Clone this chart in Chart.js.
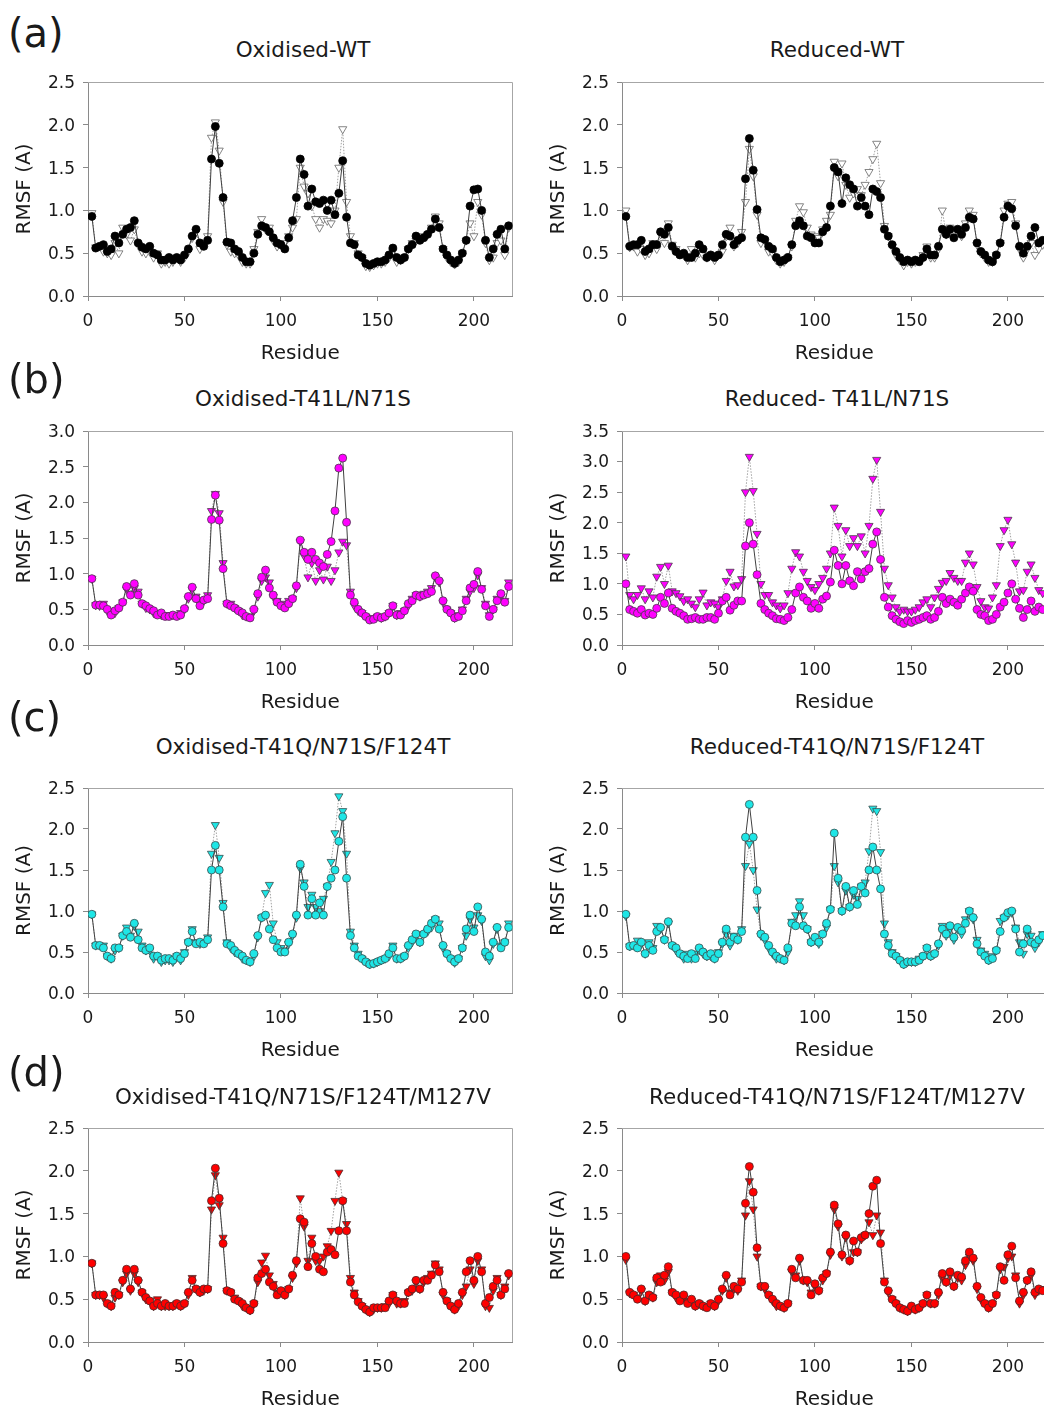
<!DOCTYPE html>
<html>
<head>
<meta charset="utf-8">
<title>RMSF per residue</title>
<script src="https://cdn.jsdelivr.net/npm/chart.js@4.4.1/dist/chart.umd.min.js"></script>
<style>
  html, body { margin: 0; padding: 0; background: #fff; overflow: hidden; }
  #page { position: relative; width: 1044px; height: 1408px; overflow: hidden; background: #fff;
          font-family: "DejaVu Sans", sans-serif; color: #1a1a1a; }
  .tag { position: absolute; left: 8px; font-family: "DejaVu Sans", sans-serif; font-size: 40px; line-height: 46px; }
  .ttl { position: absolute; width: 430px; text-align: center; font-size: 21.5px; line-height: 24px; white-space: nowrap; }
  .box { position: absolute; }
</style>
</head>
<body>
<div id="page"></div>
<script>
// residue numbers (every second residue)
const residues = [
  2, 4, 6, 8, 10, 12, 14, 16, 18, 20,
  22, 24, 26, 28, 30, 32, 34, 36, 38, 40,
  42, 44, 46, 48, 50, 52, 54, 56, 58, 60,
  62, 64, 66, 68, 70, 72, 74, 76, 78, 80,
  82, 84, 86, 88, 90, 92, 94, 96, 98, 100,
  102, 104, 106, 108, 110, 112, 114, 116, 118, 120,
  122, 124, 126, 128, 130, 132, 134, 136, 138, 140,
  142, 144, 146, 148, 150, 152, 154, 156, 158, 160,
  162, 164, 166, 168, 170, 172, 174, 176, 178, 180,
  182, 184, 186, 188, 190, 192, 194, 196, 198, 200,
  202, 204, 206, 208, 210, 212, 214, 216, 218
];

const xTicks = [0, 50, 100, 150, 200];
const yMaxLeft = [2.5, 3.0, 2.5, 2.5];
const yMaxRight = [2.5, 3.5, 2.5, 2.5];

const panelTags = ['(a)', '(b)', '(c)', '(d)'];
const titlesLeft = ['Oxidised-WT', 'Oxidised-T41L/N71S', 'Oxidised-T41Q/N71S/F124T', 'Oxidised-T41Q/N71S/F124T/M127V'];
const titlesRight = ['Reduced-WT', 'Reduced- T41L/N71S', 'Reduced-T41Q/N71S/F124T', 'Reduced-T41Q/N71S/F124T/M127V'];

// (a) WT
const oxWtCircle = [
  0.93,0.56,0.58,0.60,0.52,0.55,0.70,0.62,0.72,0.78,
  0.80,0.88,0.62,0.57,0.55,0.58,0.50,0.48,0.42,0.42,
  0.45,0.42,0.45,0.42,0.48,0.55,0.70,0.78,0.62,0.58,
  0.65,1.60,1.98,1.55,1.15,0.63,0.62,0.55,0.52,0.45,
  0.40,0.40,0.50,0.72,0.82,0.80,0.75,0.68,0.62,0.60,
  0.55,0.68,0.88,1.15,1.60,1.42,1.05,1.25,1.10,1.08,
  1.12,1.00,1.12,0.95,1.20,1.58,0.92,0.62,0.60,0.48,
  0.45,0.38,0.36,0.38,0.40,0.40,0.42,0.48,0.56,0.45,
  0.42,0.45,0.55,0.60,0.70,0.65,0.68,0.72,0.78,0.90,
  0.80,0.55,0.48,0.42,0.38,0.42,0.50,0.65,1.05,1.24,
  1.25,1.00,0.65,0.45,0.55,0.72,0.78,0.55,0.82
];
const oxWtTriangle = [
  0.97,0.57,0.58,0.52,0.50,0.48,0.62,0.50,0.80,0.72,
  0.65,0.78,0.60,0.52,0.50,0.52,0.45,0.50,0.38,0.40,
  0.38,0.40,0.45,0.40,0.45,0.52,0.68,0.75,0.55,0.60,
  0.70,1.85,2.03,1.70,1.10,0.60,0.52,0.50,0.48,0.40,
  0.38,0.38,0.55,0.75,0.90,0.78,0.80,0.65,0.58,0.60,
  0.62,0.70,0.80,0.90,1.50,1.28,1.20,1.05,0.90,0.80,
  0.90,0.88,0.85,1.00,1.50,1.95,1.10,0.70,0.62,0.50,
  0.45,0.35,0.34,0.36,0.38,0.38,0.40,0.45,0.52,0.40,
  0.42,0.45,0.55,0.62,0.65,0.68,0.70,0.72,0.80,0.93,
  0.85,0.55,0.45,0.40,0.37,0.40,0.50,0.65,0.85,0.70,
  1.10,0.95,0.62,0.42,0.45,0.62,0.65,0.48,0.80
];
const redWtCircle = [
  0.93,0.58,0.60,0.60,0.65,0.52,0.55,0.60,0.60,0.75,
  0.72,0.80,0.58,0.52,0.48,0.50,0.45,0.45,0.50,0.60,
  0.55,0.45,0.48,0.45,0.48,0.60,0.72,0.70,0.60,0.65,
  0.68,1.37,1.84,1.47,1.01,0.68,0.66,0.58,0.55,0.45,
  0.40,0.42,0.45,0.60,0.82,0.88,0.82,0.70,0.68,0.62,
  0.62,0.75,0.80,1.05,1.50,1.45,1.08,1.38,1.30,1.25,
  1.05,1.15,1.05,0.95,1.25,1.22,1.15,0.78,0.70,0.60,
  0.52,0.45,0.40,0.42,0.40,0.42,0.40,0.45,0.55,0.48,
  0.48,0.58,0.78,0.72,0.78,0.68,0.78,0.72,0.80,0.92,
  0.90,0.62,0.52,0.48,0.42,0.40,0.48,0.62,0.92,1.05,
  1.02,0.82,0.58,0.50,0.58,0.70,0.80,0.62,0.65
];
const redWtTriangle = [
  1.00,0.57,0.58,0.52,0.55,0.48,0.50,0.62,0.55,0.72,
  0.62,0.85,0.60,0.55,0.50,0.48,0.42,0.55,0.45,0.50,
  0.48,0.45,0.48,0.42,0.48,0.52,0.70,0.80,0.58,0.62,
  0.75,1.10,1.72,1.40,0.95,0.62,0.65,0.52,0.50,0.42,
  0.38,0.40,0.45,0.58,0.88,1.05,0.98,0.80,0.72,0.70,
  0.68,0.78,0.88,0.95,1.57,1.40,1.55,1.30,1.15,1.20,
  1.25,1.18,1.30,1.45,1.60,1.78,1.32,0.82,0.70,0.58,
  0.48,0.42,0.36,0.40,0.38,0.40,0.42,0.48,0.58,0.45,
  0.45,0.55,1.00,0.72,0.80,0.72,0.78,0.70,0.85,1.00,
  0.95,0.60,0.50,0.45,0.40,0.40,0.48,0.62,1.00,1.08,
  1.10,0.85,0.55,0.45,0.55,0.62,0.48,0.55,0.60
];

// (b) T41L/N71S
const oxLsCircle = [
  0.93,0.56,0.56,0.55,0.50,0.42,0.48,0.52,0.60,0.82,
  0.70,0.86,0.70,0.58,0.55,0.51,0.48,0.42,0.45,0.40,
  0.40,0.42,0.40,0.42,0.51,0.68,0.81,0.65,0.55,0.63,
  0.65,1.76,2.10,1.75,1.07,0.58,0.55,0.52,0.48,0.45,
  0.40,0.38,0.50,0.72,0.95,1.05,0.80,0.70,0.60,0.55,
  0.52,0.58,0.65,0.83,1.47,1.30,1.20,1.30,1.20,1.15,
  1.10,1.27,1.45,1.88,2.48,2.62,1.72,0.70,0.60,0.50,
  0.45,0.40,0.35,0.36,0.40,0.38,0.40,0.45,0.55,0.42,
  0.42,0.48,0.58,0.62,0.70,0.68,0.70,0.72,0.75,0.97,
  0.90,0.62,0.50,0.45,0.38,0.40,0.48,0.62,0.80,0.85,
  1.03,0.78,0.55,0.40,0.50,0.62,0.72,0.60,0.82
];
const oxLsTriangle = [
  0.93,0.56,0.55,0.58,0.48,0.45,0.45,0.52,0.60,0.78,
  0.72,0.80,0.75,0.58,0.52,0.50,0.45,0.45,0.42,0.42,
  0.42,0.42,0.42,0.45,0.50,0.65,0.78,0.68,0.58,0.62,
  0.70,1.88,2.12,1.85,1.15,0.58,0.58,0.52,0.48,0.42,
  0.40,0.40,0.48,0.68,0.90,0.95,0.88,0.68,0.62,0.58,
  0.55,0.62,0.65,0.80,1.45,1.25,0.95,1.15,0.90,1.05,
  0.92,1.10,0.90,1.05,1.30,1.45,1.40,0.75,0.55,0.48,
  0.45,0.40,0.36,0.38,0.40,0.38,0.40,0.45,0.55,0.42,
  0.45,0.48,0.55,0.65,0.70,0.68,0.72,0.75,0.80,0.95,
  0.88,0.60,0.50,0.45,0.38,0.42,0.50,0.65,0.75,0.80,
  0.98,0.80,0.58,0.42,0.50,0.65,0.68,0.62,0.88
];
const redLsCircle = [
  1.00,0.58,0.55,0.52,0.58,0.49,0.52,0.50,0.60,0.78,
  0.68,0.85,0.60,0.55,0.52,0.48,0.42,0.43,0.45,0.42,
  0.42,0.45,0.45,0.42,0.52,0.72,0.78,0.57,0.65,0.72,
  0.72,1.62,2.00,1.65,1.15,0.68,0.58,0.52,0.48,0.43,
  0.42,0.40,0.45,0.58,0.85,0.95,0.78,0.72,0.60,0.68,
  0.60,0.75,0.80,1.03,1.55,1.30,1.00,1.30,1.05,0.97,
  1.20,1.08,1.20,1.25,1.65,1.85,1.40,0.78,0.62,0.48,
  0.42,0.38,0.35,0.40,0.37,0.40,0.42,0.45,0.48,0.42,
  0.45,0.55,0.78,0.68,0.75,0.70,0.65,0.75,0.85,0.95,
  0.88,0.58,0.50,0.48,0.40,0.42,0.50,0.62,0.70,0.85,
  1.00,0.75,0.60,0.45,0.58,0.72,0.55,0.62,0.58
];
const redLsTriangle = [
  1.45,0.82,0.75,0.82,0.93,0.75,0.88,0.78,1.12,1.28,
  1.00,1.30,0.88,0.85,0.80,0.72,0.75,0.68,0.62,0.75,
  0.86,0.65,0.70,0.68,0.62,0.75,1.05,1.20,0.96,0.98,
  1.08,2.50,3.08,2.52,1.82,1.00,0.82,0.82,0.70,0.65,
  0.60,0.65,0.85,1.25,1.52,1.45,1.20,1.05,0.95,0.90,
  1.00,1.10,1.25,1.50,2.25,1.95,1.45,1.88,1.62,1.75,
  1.62,1.78,1.50,1.95,2.72,3.03,2.18,1.25,0.98,0.78,
  0.62,0.55,0.58,0.55,0.55,0.58,0.62,0.70,0.75,0.62,
  0.78,0.92,1.02,1.05,1.18,1.10,1.05,1.05,1.35,1.50,
  1.32,0.95,0.72,0.62,0.60,0.78,0.98,1.62,1.88,2.05,
  1.65,1.35,0.88,0.90,1.20,1.32,1.10,0.90,0.85
];

// (c) T41Q/N71S/F124T
const oxQstCircle = [
  0.96,0.58,0.58,0.55,0.45,0.42,0.55,0.55,0.70,0.75,
  0.68,0.85,0.65,0.55,0.52,0.55,0.45,0.45,0.40,0.42,
  0.42,0.40,0.45,0.42,0.48,0.62,0.75,0.60,0.62,0.60,
  0.65,1.50,1.80,1.50,1.05,0.60,0.58,0.52,0.48,0.45,
  0.40,0.38,0.48,0.70,0.92,0.95,0.78,0.65,0.55,0.50,
  0.50,0.62,0.72,0.95,1.57,1.30,0.95,1.15,0.95,1.10,
  0.95,1.30,1.40,1.50,1.85,2.15,1.40,0.70,0.55,0.45,
  0.42,0.38,0.35,0.36,0.38,0.40,0.42,0.48,0.55,0.42,
  0.42,0.45,0.58,0.65,0.72,0.62,0.72,0.78,0.85,0.90,
  0.78,0.58,0.48,0.42,0.38,0.42,0.55,0.78,0.95,0.75,
  1.05,0.90,0.50,0.45,0.62,0.80,0.55,0.62,0.80
];
const oxQstTriangle = [
  0.96,0.58,0.58,0.58,0.45,0.42,0.52,0.55,0.70,0.80,
  0.70,0.82,0.75,0.58,0.52,0.52,0.42,0.45,0.38,0.40,
  0.40,0.38,0.45,0.40,0.50,0.62,0.78,0.62,0.60,0.62,
  0.68,1.70,2.05,1.65,1.10,0.62,0.55,0.50,0.48,0.42,
  0.40,0.38,0.45,0.68,0.92,1.22,1.32,0.85,0.62,0.55,
  0.52,0.60,0.70,0.92,1.52,1.35,1.05,1.20,1.05,1.00,
  1.15,1.30,1.60,1.95,2.40,2.22,1.70,0.75,0.58,0.48,
  0.42,0.38,0.35,0.36,0.38,0.40,0.42,0.45,0.58,0.42,
  0.42,0.45,0.55,0.62,0.70,0.62,0.72,0.75,0.80,0.90,
  0.85,0.55,0.48,0.42,0.37,0.42,0.55,0.70,0.90,0.80,
  0.95,0.88,0.45,0.40,0.60,0.78,0.58,0.62,0.85
];
const redQstCircle = [
  0.96,0.57,0.58,0.55,0.62,0.48,0.58,0.52,0.75,0.80,
  0.65,0.87,0.58,0.55,0.48,0.45,0.42,0.48,0.42,0.55,
  0.50,0.45,0.48,0.42,0.48,0.62,0.78,0.62,0.68,0.65,
  0.75,1.90,2.30,1.90,1.25,0.72,0.68,0.58,0.50,0.45,
  0.42,0.40,0.55,0.85,0.82,1.05,0.82,0.78,0.62,0.68,
  0.62,0.72,0.85,1.02,1.95,1.40,1.00,1.30,1.05,1.25,
  1.08,1.30,1.22,1.50,1.78,1.50,1.27,0.72,0.58,0.48,
  0.45,0.40,0.35,0.38,0.38,0.38,0.40,0.45,0.55,0.45,
  0.48,0.60,0.78,0.72,0.82,0.68,0.80,0.76,0.85,1.00,
  0.92,0.60,0.50,0.45,0.40,0.42,0.52,0.75,0.92,0.98,
  1.00,0.78,0.50,0.60,0.78,0.62,0.60,0.65,0.70
];
const redQstTriangle = [
  0.94,0.57,0.58,0.64,0.60,0.48,0.62,0.55,0.82,0.78,
  0.65,0.85,0.58,0.52,0.48,0.42,0.48,0.42,0.48,0.52,
  0.48,0.45,0.45,0.42,0.50,0.60,0.72,0.58,0.70,0.65,
  0.78,1.55,1.82,1.50,1.02,0.70,0.65,0.55,0.48,0.42,
  0.42,0.40,0.50,0.87,0.95,1.12,0.95,0.78,0.62,0.65,
  0.60,0.72,0.80,1.02,1.55,1.35,1.00,1.25,1.05,1.20,
  1.15,1.30,1.35,1.73,2.25,2.22,1.72,0.85,0.62,0.50,
  0.45,0.40,0.35,0.38,0.38,0.38,0.42,0.45,0.55,0.45,
  0.48,0.58,0.82,0.70,0.78,0.65,0.78,0.72,0.90,1.00,
  0.90,0.65,0.52,0.48,0.40,0.45,0.52,0.88,0.92,0.95,
  0.98,0.80,0.62,0.48,0.72,0.70,0.55,0.62,0.72
];

// (d) T41Q/N71S/F124T/M127V
const oxQstvCircle = [
  0.92,0.55,0.55,0.55,0.45,0.42,0.58,0.55,0.72,0.85,
  0.62,0.85,0.72,0.58,0.52,0.48,0.42,0.45,0.42,0.45,
  0.42,0.42,0.45,0.42,0.45,0.58,0.72,0.62,0.58,0.62,
  0.62,1.65,2.03,1.68,1.15,0.60,0.58,0.50,0.48,0.45,
  0.40,0.37,0.45,0.75,0.80,0.85,0.70,0.65,0.55,0.60,
  0.55,0.62,0.78,0.95,1.44,1.40,0.88,1.15,1.00,0.85,
  0.82,1.05,1.08,1.02,1.30,1.65,1.30,0.70,0.55,0.47,
  0.42,0.38,0.35,0.40,0.40,0.40,0.40,0.48,0.55,0.48,
  0.45,0.45,0.58,0.62,0.72,0.62,0.72,0.72,0.78,0.90,
  0.82,0.58,0.48,0.42,0.38,0.45,0.58,0.82,0.95,0.72,
  1.00,0.82,0.45,0.52,0.65,0.72,0.55,0.62,0.80
];
const oxQstvTriangle = [
  0.92,0.55,0.55,0.52,0.45,0.42,0.52,0.55,0.70,0.80,
  0.60,0.80,0.70,0.58,0.50,0.48,0.42,0.50,0.42,0.42,
  0.42,0.42,0.45,0.42,0.45,0.55,0.75,0.62,0.58,0.60,
  0.62,1.55,1.95,1.60,1.22,0.60,0.58,0.52,0.48,0.42,
  0.40,0.37,0.45,0.70,0.93,1.01,0.78,0.68,0.58,0.60,
  0.55,0.62,0.75,0.92,1.68,1.35,0.95,1.22,0.95,0.95,
  1.00,1.12,1.30,1.65,1.98,1.65,1.38,0.75,0.58,0.48,
  0.42,0.38,0.35,0.38,0.40,0.40,0.42,0.45,0.55,0.45,
  0.45,0.48,0.58,0.60,0.70,0.62,0.70,0.75,0.80,0.92,
  0.85,0.55,0.48,0.42,0.38,0.42,0.55,0.65,0.85,0.68,
  0.95,0.85,0.42,0.40,0.60,0.75,0.55,0.65,0.78
];
const redQstvCircle = [
  1.00,0.58,0.55,0.50,0.62,0.48,0.55,0.52,0.75,0.70,
  0.78,0.88,0.58,0.55,0.48,0.55,0.45,0.50,0.42,0.45,
  0.42,0.40,0.45,0.42,0.50,0.62,0.78,0.55,0.65,0.62,
  0.70,1.62,2.05,1.75,1.10,0.65,0.65,0.55,0.50,0.45,
  0.42,0.40,0.45,0.85,0.75,0.98,0.72,0.72,0.55,0.68,
  0.60,0.75,0.80,1.05,1.60,1.38,1.02,1.25,0.95,1.18,
  1.05,1.22,1.25,1.50,1.82,1.89,1.15,0.70,0.60,0.50,
  0.45,0.40,0.38,0.36,0.42,0.38,0.40,0.45,0.55,0.45,
  0.45,0.58,0.80,0.70,0.82,0.65,0.78,0.76,0.95,1.05,
  0.98,0.65,0.52,0.45,0.40,0.45,0.55,0.88,0.72,1.02,
  1.12,0.75,0.48,0.58,0.72,0.82,0.58,0.62,0.60
];
const redQstvTriangle = [
  0.96,0.57,0.55,0.52,0.60,0.48,0.55,0.52,0.70,0.78,
  0.72,0.82,0.58,0.52,0.50,0.52,0.48,0.48,0.42,0.45,
  0.42,0.42,0.45,0.42,0.48,0.60,0.75,0.58,0.62,0.60,
  0.72,1.48,1.88,1.55,1.00,0.65,0.62,0.55,0.48,0.42,
  0.42,0.40,0.45,0.82,0.78,0.95,0.72,0.70,0.58,0.65,
  0.60,0.72,0.80,1.02,1.55,1.35,1.00,1.22,0.95,1.05,
  1.05,1.20,1.25,1.40,1.25,1.48,1.28,0.72,0.58,0.50,
  0.45,0.40,0.38,0.36,0.40,0.38,0.40,0.45,0.55,0.45,
  0.45,0.55,0.75,0.70,0.78,0.65,0.75,0.72,0.90,1.00,
  0.95,0.62,0.50,0.45,0.40,0.45,0.55,0.85,0.88,0.98,
  1.00,0.78,0.45,0.55,0.72,0.78,0.55,0.60,0.62
];

const seriesLeft = [
  [oxWtCircle, oxWtTriangle], [oxLsCircle, oxLsTriangle],
  [oxQstCircle, oxQstTriangle], [oxQstvCircle, oxQstvTriangle]
];
const seriesRight = [
  [redWtCircle, redWtTriangle], [redLsCircle, redLsTriangle],
  [redQstCircle, redQstTriangle], [redQstvCircle, redQstvTriangle]
];

// --- layout and styling ---
const FONT = '"DejaVu Sans", sans-serif';
const PLOT_W = 430;
const Y_AXIS_W = 88;
const X_AXIS_H = 70;
const PAD_TOP = 20;
const plotLeft = [88, 622];
const plotTop = [82, 431, 788, 1128];
const plotHeight = [214, 214, 205, 214];
const titleY = [50, 399, 747, 1097];
const tagY = [34, 380, 718, 1073];

const rowStyles = [
  { circleFill: '#000000', circleEdge: '#000000', triFill: '#ffffff', triEdge: '#666666' },
  { circleFill: '#ff00ff', circleEdge: '#4a3a4a', triFill: '#ff00ff', triEdge: '#4a3a4a' },
  { circleFill: '#1ee6e6', circleEdge: '#3a4c4c', triFill: '#1ee6e6', triEdge: '#3a4c4c' },
  { circleFill: '#ff0000', circleEdge: '#4a2a2a', triFill: '#ff0000', triEdge: '#4a2a2a' }
];

// light top and right edges of the plot frame
const framePlugin = {
  id: 'frame',
  beforeDatasetsDraw(chart) {
    const { ctx, chartArea: a } = chart;
    ctx.save();
    ctx.strokeStyle = '#a6a6a6';
    ctx.lineWidth = 1;
    ctx.beginPath();
    ctx.moveTo(a.left, Math.round(a.top) + 0.5);
    ctx.lineTo(Math.round(a.right) - 0.5, Math.round(a.top) + 0.5);
    ctx.lineTo(Math.round(a.right) - 0.5, a.bottom);
    ctx.stroke();
    ctx.restore();
  }
};

const toPoints = (values) => values.map((v, i) => ({ x: residues[i], y: v }));

const page = document.getElementById('page');

const addText = (cls, text, left, top) => {
  const el = document.createElement('div');
  el.className = cls;
  el.textContent = text;
  el.style.left = left + 'px';
  el.style.top = top + 'px';
  page.appendChild(el);
};

const makePanel = (row, col) => {
  const yMax = col === 0 ? yMaxLeft[row] : yMaxRight[row];
  const [circles, triangles] = col === 0 ? seriesLeft[row] : seriesRight[row];
  const style = rowStyles[row];
  const left = plotLeft[col] - Y_AXIS_W;
  const top = plotTop[row] - PAD_TOP;

  const box = document.createElement('div');
  box.className = 'box';
  box.style.left = left + 'px';
  box.style.top = top + 'px';
  box.style.width = (Y_AXIS_W + PLOT_W) + 'px';
  box.style.height = (PAD_TOP + plotHeight[row] + X_AXIS_H) + 'px';
  const canvas = document.createElement('canvas');
  box.appendChild(canvas);
  page.appendChild(box);

  const tickFont = { family: FONT, size: 17 };
  const titleFont = { family: FONT, size: 20 };

  new Chart(canvas.getContext('2d'), {
    type: 'line',
    data: {
      datasets: [
        {
          data: toPoints(circles),
          showLine: true,
          borderColor: '#404040',
          borderWidth: 1,
          tension: 0,
          pointStyle: 'circle',
          pointRadius: 4,
          pointBackgroundColor: style.circleFill,
          pointBorderColor: style.circleEdge,
          pointBorderWidth: 0.8
        },
        {
          data: toPoints(triangles),
          showLine: true,
          borderColor: '#a0a0a0',
          borderWidth: 1,
          borderDash: [1.5, 1.5],
          tension: 0,
          pointStyle: 'triangle',
          pointRotation: 180,
          pointRadius: 4.7,
          pointBackgroundColor: style.triFill,
          pointBorderColor: style.triEdge,
          pointBorderWidth: 0.8
        }
      ]
    },
    options: {
      responsive: true,
      maintainAspectRatio: false,
      animation: false,
      devicePixelRatio: 1,
      layout: { padding: { top: PAD_TOP, left: 0, right: 0, bottom: 0 } },
      plugins: { legend: { display: false }, tooltip: { enabled: false } },
      scales: {
        x: {
          type: 'linear',
          min: 0,
          max: 220,
          afterFit: (scale) => { scale.height = X_AXIS_H; },
          afterBuildTicks: (scale) => { scale.ticks = xTicks.map(v => ({ value: v })); },
          ticks: { padding: 10, color: '#1a1a1a', font: tickFont, maxRotation: 0 },
          grid: { drawOnChartArea: false, drawTicks: true, tickLength: 5, color: '#8a8a8a' },
          border: { color: '#8a8a8a', width: 1 },
          title: { display: true, text: 'Residue', color: '#1a1a1a', font: titleFont, padding: { top: 0, bottom: 0 } }
        },
        y: {
          min: 0,
          max: yMax,
          afterFit: (scale) => { scale.width = Y_AXIS_W; },
          ticks: {
            stepSize: 0.5,
            padding: 8,
            labelOffset: 1.5,
            color: '#1a1a1a',
            font: tickFont,
            callback: (v) => Number(v).toFixed(1)
          },
          grid: { drawOnChartArea: false, drawTicks: true, tickLength: 5, color: '#8a8a8a' },
          border: { color: '#8a8a8a', width: 1 },
          title: { display: true, text: 'RMSF (A)', color: '#1a1a1a', font: titleFont, padding: { top: 13, bottom: 0 } }
        }
      }
    },
    plugins: [framePlugin]
  });

  const titles = col === 0 ? titlesLeft : titlesRight;
  addText('ttl', titles[row], plotLeft[col], titleY[row] - 12);
};

for (let row = 0; row < 4; row++) {
  addText('tag', panelTags[row], 8, tagY[row] - 24);
  makePanel(row, 0);
  makePanel(row, 1);
}
</script>
</body>
</html>
